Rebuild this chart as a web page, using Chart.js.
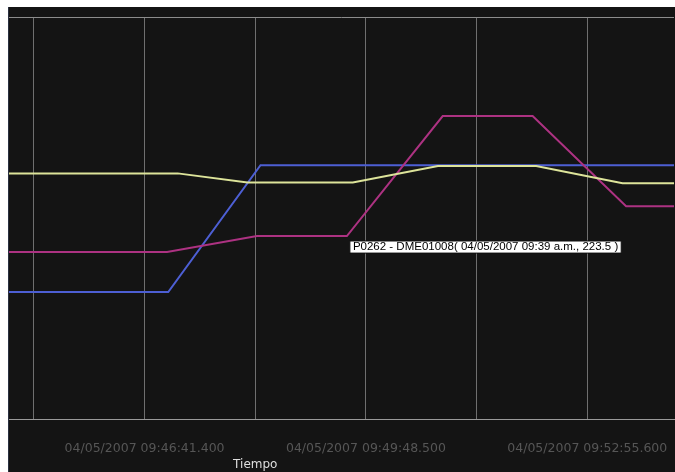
<!DOCTYPE html>
<html>
<head>
<meta charset="utf-8">
<script src="https://cdn.jsdelivr.net/npm/chart.js@4"></script>
<style>
  html, body { margin: 0; padding: 0; background: #ffffff; }
  #wrap { position: absolute; left: 8px; top: 7px; width: 667px; height: 465px;
          background: #141414; border-left: 1px solid #2a3040; box-sizing: border-box; }
  #wrap canvas { position: absolute; left: -1px; top: 0; }
</style>
</head>
<body>
<div id="wrap"><canvas id="c" width="667" height="465"></canvas></div>
<script>
// Time axis: seconds relative to 04/05/2007 09:46:41.400
const axisMin = -114.6;
const axisMax = 447.5;
const gridTicks = [-93.55, 0, 93.55, 187.1, 280.65, 374.2];
const labelledTicks = [0, 187.1, 374.2];
const tickLabels = ["04/05/2007 09:46:41.400", "04/05/2007 09:49:48.500", "04/05/2007 09:52:55.600"];
const axisTitle = "Tiempo";

// Series samples (time in seconds, value)
const yellowTimes  = [-114.6, 28, 87, 176, 248, 331, 404, 447.5];
const yellowValues = [300, 300, 289, 289, 309, 309, 288, 288];
const magentaTimes  = [-114.6, 19, 95, 171, 252, 328, 407, 447.5];
const magentaValues = [204, 204, 223.5, 223.5, 370, 370, 260, 260];
const blueTimes  = [-114.6, 20, 98, 447.5];
const blueValues = [155, 155, 310, 310];

// Highlighted sample on the magenta series
const magentaName = "P0262 - DME01008";
const markedTime = "04/05/2007 09:39 a.m.";
const markedIndex = 3;

const pts = (ts, vs) => ts.map((t, i) => ({ x: t, y: vs[i] }));

Chart.Tooltip.positioners.pointCorner = function (items) {
  if (!items.length) return false;
  const el = items[0].element;
  return { x: el.x + 3, y: el.y };
};

const frameLines = {
  id: 'frameLines',
  afterDraw(chart) {
    const { ctx, chartArea, scales } = chart;
    ctx.save();
    ctx.strokeStyle = '#8c8c8c';
    ctx.lineWidth = 1;
    ctx.beginPath();
    ctx.moveTo(chartArea.left, chartArea.top + 0.5);
    ctx.lineTo(chartArea.right, chartArea.top + 0.5);
    ctx.stroke();
    ctx.fillStyle = '#dedede';
    ctx.font = '12px "DejaVu Sans"';
    ctx.textAlign = 'center';
    ctx.textBaseline = 'middle';
    ctx.fillText(axisTitle, scales.x.getPixelForValue(gridTicks[2]), chart.height - 7);
    ctx.restore();
  }
};

const common = { fill: false, pointRadius: 0, pointHoverRadius: 0, borderWidth: 2, tension: 0 };

const chart = new Chart(document.getElementById('c'), {
  type: 'line',
  data: {
    datasets: [
      Object.assign({ label: 'Serie amarilla', data: pts(yellowTimes, yellowValues), borderColor: '#dde49a' }, common),
      Object.assign({ label: magentaName, data: pts(magentaTimes, magentaValues), borderColor: '#ad3282' }, common),
      Object.assign({ label: 'Serie azul', data: pts(blueTimes, blueValues), borderColor: '#4d5fd4' }, common)
    ]
  },
  options: {
    responsive: false,
    animation: false,
    events: [],
    layout: { padding: { top: 10, left: 0, right: 0, bottom: 17 } },
    scales: {
      x: {
        type: 'linear',
        min: axisMin,
        max: axisMax,
        afterBuildTicks(scale) { scale.ticks = gridTicks.map(v => ({ value: v })); },
        afterFit(scale) {
          scale.height = 36;
          scale.paddingLeft = 0;
          scale.paddingRight = 0;
        },
        grid: { color: 'rgba(185,185,185,0.55)', lineWidth: 1, drawTicks: false },
        border: { display: true, color: '#9a9a9a', width: 1 },
        ticks: {
          autoSkip: false,
          maxRotation: 0,
          padding: 22,
          color: '#565656',
          font: { family: 'DejaVu Sans', size: 12.5 },
          callback(value) {
            const k = labelledTicks.findIndex(v => Math.abs(v - value) < 0.01);
            return k >= 0 ? tickLabels[k] : '';
          }
        }
      },
      y: { display: false, min: 0, max: 491 }
    },
    plugins: {
      legend: { display: false },
      title: { display: false },
      tooltip: {
        enabled: true,
        animation: false,
        position: 'pointCorner',
        xAlign: 'left',
        yAlign: 'top',
        caretSize: 0,
        caretPadding: 5,
        cornerRadius: 0,
        backgroundColor: '#ffffff',
        borderColor: '#111111',
        borderWidth: 1,
        bodyColor: '#000000',
        bodyFont: { family: 'Liberation Sans', size: 11.5, lineHeight: 1.05 },
        padding: { top: 0, bottom: 0, left: 3, right: 3 },
        displayColors: false,
        callbacks: {
          title: () => '',
          label: (ctx) => `${ctx.dataset.label}( ${markedTime}, ${ctx.parsed.y} )`
        }
      }
    }
  },
  plugins: [frameLines]
});

chart.tooltip.setActiveElements([{ datasetIndex: 1, index: markedIndex }], { x: 0, y: 0 });
chart.update();
</script>
</body>
</html>
